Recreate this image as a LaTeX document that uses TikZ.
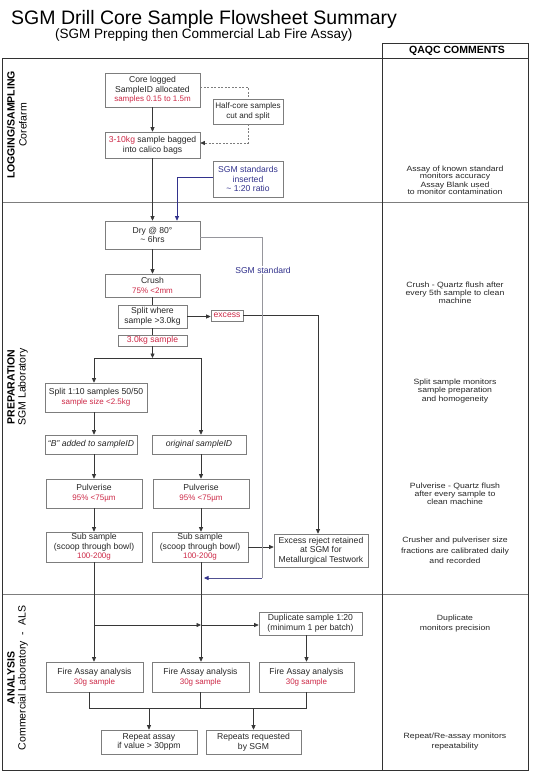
\documentclass[tikz,border=0pt]{standalone}
\usepackage{fontspec}
\setmainfont{Liberation Sans}
\newfontfamily\cmtfont{Liberation Sans}[FakeStretch=1.14]
\usepackage{tikz}
\usepackage{xcolor}
\usetikzlibrary{arrows.meta}

\definecolor{smpred}{RGB}{204,40,70}
\definecolor{stdblue}{RGB}{50,50,140}
\definecolor{boxgray}{RGB}{125,125,125}
\definecolor{linegray}{RGB}{55,55,55}
\definecolor{stdgray}{RGB}{150,150,156}
\definecolor{framegray}{RGB}{50,50,50}

\newcommand{\rd}[1]{{\color{smpred}\fontsize{8}{9}\selectfont #1}}
\lineskiplimit=-6pt

\tikzset{
  box/.style={draw=boxgray, line width=0.6pt, align=center, inner sep=0.5pt,
    text=black!85, font=\fontsize{8.6}{9.6}\selectfont},
  wh/.style 2 args={minimum width=#1pt, minimum height=#2pt},
  flow/.style={draw=linegray, line width=0.7pt},
  arr/.style={flow, -{Triangle[length=4.5pt,width=4pt]}},
  dashline/.style={draw=boxgray, line width=0.6pt, dash pattern=on 2pt off 1.5pt},
  dasharr/.style={dashline, -{Triangle[length=4.5pt,width=4pt,color=linegray]}},
  stdarr/.style={draw=stdblue, line width=0.7pt, -{Triangle[length=4.5pt,width=4pt]}},
  stdflow/.style={draw=stdgray, line width=0.6pt},
  secbold/.style={rotate=90, inner sep=0pt, font=\bfseries\fontsize{10.5}{12}\selectfont},
  secname/.style={rotate=90, inner sep=0pt, font=\fontsize{10.5}{12}\selectfont},
  cmt/.style={align=center, inner sep=0pt, text=black!85,
    font=\cmtfont\fontsize{7.6}{#1}\selectfont},
  frame/.style={draw=framegray, line width=0.9pt},
  divider/.style={draw=boxgray, line width=0.5pt}
}

\begin{document}
\begin{tikzpicture}[x=1pt,y=-1pt]
  \useasboundingbox (0,0) rectangle (536,777);

  % title
  \node[anchor=base west, inner sep=0pt, font=\fontsize{19.5}{22}\selectfont] (title) at (11,24)
    {SGM Drill Core Sample Flowsheet Summary};
  \node[anchor=base west, inner sep=0pt, font=\fontsize{13.5}{16}\selectfont] (subtitle) at (55,38)
    {(SGM Prepping then Commercial Lab Fire Assay)};

  % frame and sections
  \draw[divider] (2,202) -- (528,202);
  \draw[divider] (2,594) -- (528,594);
  \draw[frame] (2,58) rectangle (528,770);
  \draw[frame] (382,43) rectangle (528,58);
  \draw[frame] (382,58) -- (382,770);
  \node[font=\bfseries\fontsize{10.5}{12}\selectfont] (qaqc) at (457,50.5) {QAQC COMMENTS};

  \node[secbold] (logB) at (11,125) {LOGGING/SAMPLING};
  \node[secname] (logN) at (23,125) {Corefarm};
  \node[secbold] (prepB) at (11,387) {PREPARATION};
  \node[secname] (prepN) at (23,387) {SGM Laboratory};
  \node[secbold] (anaB) at (11,678) {ANALYSIS};
  \node[secname] (anaN) at (23,678) {Commercial Laboratory\ \ -\ \ ALS};

  % logging / sampling
  \node[box, wh={95}{34}] (core) at (152.5,90) {Core logged\\SampleID allocated\\\rd{samples 0.15 to 1.5m}};
  \node[box, wh={70}{25}, font=\fontsize{8.1}{9.4}\selectfont] (half) at (248,111.5) {Half-core samples\\cut and split};
  \node[box, wh={95}{26}] (bag) at (152.5,145) {{\color{smpred}3-10kg} sample bagged\\into calico bags};
  \node[box, wh={70}{36}, text=stdblue] (std) at (248,179) {SGM standards\\inserted\\\textasciitilde\ 1:20 ratio};

  \draw[arr] (core) -- (bag);
  \draw[dashline] ([yshift=3pt]core.east) -| (half.north);
  \draw[dasharr] (half.south) |- ([yshift=2pt]bag.east);

  % preparation
  \node[box, wh={95}{28}] (dry) at (152.5,235) {Dry @ 80°\\\textasciitilde\ 6hrs};
  \node[box, wh={95}{23}] (crush) at (152.5,285.5) {Crush\\\rd{75\% \textless2mm}};
  \node[box, wh={69}{23}] (splitx) at (152.5,316.5) {Split where\\sample \textgreater3.0kg};
  \node[box, wh={32}{11}, text=smpred] (excess) at (227,315.5) {excess};
  \node[box, wh={69}{11}, text=smpred] (kg3) at (152.5,340.5) {3.0kg sample};
  \node[box, wh={102}{29}] (split10) at (96,397.5) {Split 1:10 samples 50/50\\\rd{sample size \textless2.5kg}};
  \node[box, wh={92}{19}, font=\fontsize{8.6}{9.6}\selectfont\itshape] (bid) at (91,444.5) {“B” added to sampleID};
  \node[box, wh={94}{19}, font=\fontsize{8.6}{9.6}\selectfont\itshape] (oid) at (199,444.5) {original sampleID};
  \node[box, wh={96}{29}] (pulL) at (94,493.5) {Pulverise\\\rd{95\% \textless75µm}};
  \node[box, wh={96}{29}] (pulR) at (201,493.5) {Pulverise\\\rd{95\% \textless75µm}};
  \node[box, wh={96}{30}] (subL) at (94,547) {Sub sample\\(scoop through bowl)\\\rd{100-200g}};
  \node[box, wh={96}{30}] (subR) at (200,547) {Sub sample\\(scoop through bowl)\\\rd{100-200g}};
  \node[box, wh={94}{33}] (reject) at (321,550.5) {Excess reject retained\\at SGM for\\Metallurgical Testwork};

  \coordinate (brL) at (94,358);
  \coordinate (brR) at (201,358);
  \coordinate (stdturn) at (262,578);

  \draw[arr] (bag) -- (dry);
  \draw[stdarr] ([yshift=2pt]std.west) -| ([xshift=24.5pt]dry.north);
  \draw[arr] (dry) -- (crush);
  \draw[flow] (crush) -- (splitx);
  \draw[arr] (splitx.east) -- (splitx.east -| excess.west);
  \draw[flow] (splitx) -- (kg3);
  \draw[arr] (kg3.south) -- (kg3.south |- brL);
  \draw[flow] (brL) -- (brR);
  \draw[arr] (brL) -- (brL |- split10.north);
  \draw[arr] (brL |- split10.south) -- (brL |- bid.north);
  \draw[arr] (brL |- bid.south) -- (brL |- pulL.north);
  \draw[arr] (brL |- pulL.south) -- (brL |- subL.north);
  \draw[arr] (brR) -- (brR |- oid.north);
  \draw[arr] (brR |- oid.south) -- (brR |- pulR.north);
  \draw[arr] (brR |- pulR.south) -- (brR |- subR.north);
  \draw[arr] (excess.east) -| ([xshift=-3pt]reject.north);
  \draw[arr] (subR.east) -- (reject.west |- subR.east);
  \draw[stdflow] ([yshift=-2pt]dry.east) -| (stdturn);
  \draw[stdflow, draw=stdblue!70!stdgray, -{Triangle[length=4.5pt,width=4pt,color=stdblue]}] (stdturn) -- ([xshift=3pt]stdturn -| brR);
  \node[fill=white, text=stdblue, inner sep=1pt, font=\fontsize{8.6}{10}\selectfont] (stdlbl) at (263,270) {SGM standard};

  % analysis
  \node[box, wh={103}{23}] (dup) at (310.5,623.5) {Duplicate sample 1:20\\(minimum 1 per batch)};
  \node[box, wh={97}{30}] (faL) at (94.5,677) {Fire Assay analysis\\\rd{30g sample}};
  \node[box, wh={97}{30}] (faM) at (200.5,677) {Fire Assay analysis\\\rd{30g sample}};
  \node[box, wh={95}{30}] (faR) at (306.5,677) {Fire Assay analysis\\\rd{30g sample}};
  \node[box, wh={96}{24}] (rep1) at (149,742) {Repeat assay\\if value \textgreater\ 30ppm};
  \node[box, wh={95}{24}] (rep2) at (253.5,742) {Repeats requested\\by SGM};

  \coordinate (dupL) at (94,625);
  \coordinate (mrg) at (89,708);

  \draw[arr] (brL |- subL.south) -- (brL |- faL.north);
  \draw[arr] (brR |- subR.south) -- (brR |- faM.north);
  \draw[arr] (dupL) -- (dupL -| brR);
  \draw[arr] (dupL -| brR) -- (dupL -| dup.west);
  \draw[arr] (faR.north |- dup.south) -- (faR.north);
  \draw[flow] (mrg |- faL.south) -- (mrg) -- (mrg -| faR.south) -- (faR.south);
  \draw[flow] (faM.south) -- (faM.south |- mrg);
  \draw[arr] (rep1.north |- mrg) -- (rep1.north);
  \draw[arr] (rep2.north |- mrg) -- (rep2.north);

  % QAQC comments
  \node[cmt=7pt] (cmtStd) at (455,173.5) {Assay of known standard\\monitors accuracy};
  \node[cmt=7pt] (cmtBlank) at (455,188.5) {Assay Blank used\\to monitor contamination};
  \node[cmt=7.8pt] (cmtCrush) at (455,292.5) {Crush - Quartz flush after\\every 5th sample to clean\\machine};
  \node[cmt=8.8pt] (cmtSplit) at (455,391) {Split sample monitors\\sample preparation\\and homogeneity};
  \node[cmt=7.8pt] (cmtPulv) at (455,494) {Pulverise - Quartz flush\\after every sample to\\clean machine};
  \node[cmt=10.4pt] (cmtCal) at (455,550.5) {Crusher and pulveriser size\\fractions are calibrated daily\\and recorded};
  \node[cmt=10pt] (cmtDup) at (455,624) {Duplicate\\monitors precision};
  \node[cmt=10pt] (cmtRep) at (455,742) {Repeat/Re-assay monitors\\repeatability};
\end{tikzpicture}
\end{document}
